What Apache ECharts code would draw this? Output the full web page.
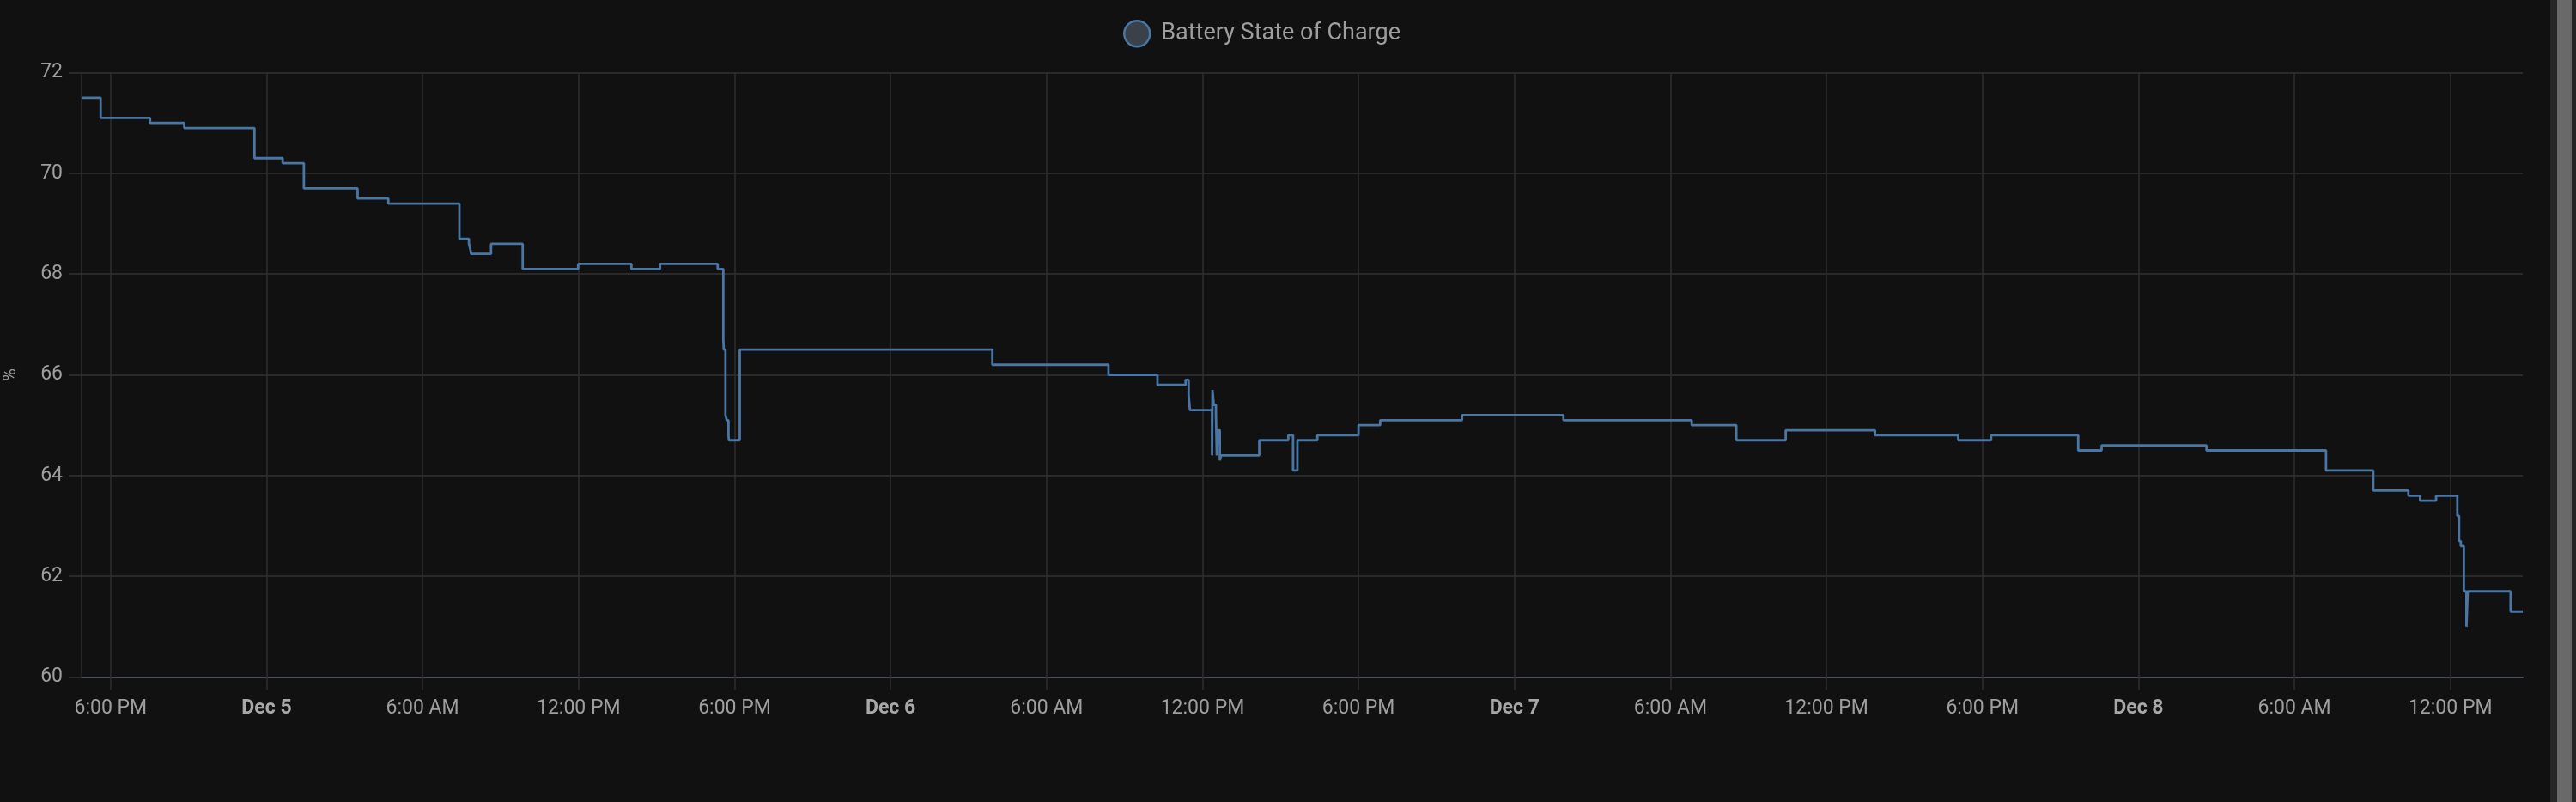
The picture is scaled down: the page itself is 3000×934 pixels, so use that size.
<!DOCTYPE html>
<html>
<head>
<meta charset="utf-8">
<title>Battery State of Charge</title>
<script src="https://cdn.jsdelivr.net/npm/echarts@6/dist/echarts.min.js"></script>
<style>
  html, body { margin: 0; padding: 0; background: #111111; overflow: hidden; }
  #chart { position: absolute; left: 0; top: 0; width: 2970px; height: 934px; }
  #scroll { position: absolute; left: 2970px; top: 0; width: 30px; height: 934px; background: #262626; }
  #scroll div { position: absolute; left: 8px; top: 0; width: 17px; height: 934px; background: #696969; }
</style>
</head>
<body>
<div id="chart"></div>
<div id="scroll"><div></div></div>
<script>
// battery history, value holds until the next change
var times = [
  '2025-12-04 16:53', '2025-12-04 17:37', '2025-12-04 19:31', '2025-12-04 20:50', '2025-12-04 23:32',
  '2025-12-05 00:37', '2025-12-05 01:26', '2025-12-05 03:30', '2025-12-05 04:41', '2025-12-05 07:25',
  '2025-12-05 07:47', '2025-12-05 07:50', '2025-12-05 07:52', '2025-12-05 08:38', '2025-12-05 09:51',
  '2025-12-05 11:59', '2025-12-05 14:02', '2025-12-05 15:08', '2025-12-05 17:21', '2025-12-05 17:30',
  '2025-12-05 17:34', '2025-12-05 17:35', '2025-12-05 17:39', '2025-12-05 17:42', '2025-12-05 17:46',
  '2025-12-05 17:47', '2025-12-05 18:12',
  '2025-12-06 03:55', '2025-12-06 08:23', '2025-12-06 10:16', '2025-12-06 11:21', '2025-12-06 11:28',
  '2025-12-06 11:31', '2025-12-06 12:22', '2025-12-06 12:23', '2025-12-06 12:26', '2025-12-06 12:31',
  '2025-12-06 12:33', '2025-12-06 12:36', '2025-12-06 12:40', '2025-12-06 12:43', '2025-12-06 14:11',
  '2025-12-06 15:18', '2025-12-06 15:29', '2025-12-06 15:39', '2025-12-06 16:25', '2025-12-06 18:00',
  '2025-12-06 18:50', '2025-12-06 21:59',
  '2025-12-07 01:53', '2025-12-07 06:49', '2025-12-07 08:32', '2025-12-07 10:26', '2025-12-07 13:52',
  '2025-12-07 17:04', '2025-12-07 18:20', '2025-12-07 21:41', '2025-12-07 22:35',
  '2025-12-08 02:37', '2025-12-08 07:13', '2025-12-08 09:02', '2025-12-08 10:23', '2025-12-08 10:50',
  '2025-12-08 11:27', '2025-12-08 12:16', '2025-12-08 12:20', '2025-12-08 12:24', '2025-12-08 12:31',
  '2025-12-08 12:37', '2025-12-08 12:40', '2025-12-08 14:19', '2025-12-08 14:47'
];
var soc = [
  71.5, 71.1, 71.0, 70.9, 70.3,
  70.2, 69.7, 69.5, 69.4, 68.7,
  68.6, 68.5, 68.4, 68.6, 68.1,
  68.2, 68.1, 68.2, 68.1, 68.1,
  66.7, 66.5, 65.2, 65.1, 64.8,
  64.7, 66.5,
  66.2, 66.0, 65.8, 65.9, 65.6,
  65.3, 64.4, 65.7, 65.4, 65.2,
  64.4, 64.9, 64.3, 64.4, 64.7,
  64.8, 64.1, 64.7, 64.8, 65.0,
  65.1, 65.2,
  65.1, 65.0, 64.7, 64.9, 64.8,
  64.7, 64.8, 64.5, 64.6,
  64.5, 64.1, 63.7, 63.6, 63.5,
  63.6, 63.2, 62.7, 62.6, 61.7,
  61.0, 61.7, 61.3, 61.3
];
// x ticks every 6 hours
var xTicks = [
  '2025-12-04 18:00', '2025-12-05 00:00', '2025-12-05 06:00', '2025-12-05 12:00',
  '2025-12-05 18:00', '2025-12-06 00:00', '2025-12-06 06:00', '2025-12-06 12:00',
  '2025-12-06 18:00', '2025-12-07 00:00', '2025-12-07 06:00', '2025-12-07 12:00',
  '2025-12-07 18:00', '2025-12-08 00:00', '2025-12-08 06:00', '2025-12-08 12:00'
];
var yTicks = [60, 62, 64, 66, 68, 70, 72];
var months = ['Jan', 'Feb', 'Mar', 'Apr', 'May', 'Jun', 'Jul', 'Aug', 'Sep', 'Oct', 'Nov', 'Dec'];

function toTime(s) {
  var p = s.split(/[- :]/);
  return new Date(+p[0], +p[1] - 1, +p[2], +p[3], +p[4]).getTime();
}

var points = [];
for (var i = 0; i < times.length; i++) {
  points.push([toTime(times[i]), soc[i]]);
}
var tickValues = xTicks.map(toTime);

function timeLabel(val) {
  var d = new Date(val);
  var h = d.getHours();
  if (h === 0) {
    return '{b|' + months[d.getMonth()] + ' ' + d.getDate() + '}';
  }
  var h12 = h % 12 === 0 ? 12 : h % 12;
  return h12 + ':00 ' + (h < 12 ? 'AM' : 'PM');
}

var myChart = echarts.init(document.getElementById('chart'));

var option = {
  backgroundColor: '#111111',
  animation: false,
  textStyle: { fontFamily: 'Roboto' },
  legend: {
    top: 23,
    left: 1308,
    padding: 0,
    icon: 'circle',
    itemWidth: 30,
    itemHeight: 30,
    textStyle: { color: '#9e9e9e', fontSize: 27, fontFamily: 'Roboto', padding: [0, 0, 0, 8] },
    itemStyle: { color: '#3b414a', borderColor: '#4a76a4', borderWidth: 2.5 },
    data: ['Battery State of Charge']
  },
  grid: {
    left: 95,
    right: 32,
    top: 84.5,
    bottom: 145.5,
    outerBoundsMode: 'none'
  },
  xAxis: {
    type: 'value',
    min: points[0][0],
    max: points[points.length - 1][0],
    axisLine: { show: true, lineStyle: { color: '#4a4e56', width: 2 } },
    axisTick: { show: true, length: 15, customValues: tickValues, lineStyle: { color: '#2e2e2e', width: 1.5 } },
    splitLine: { show: true, lineStyle: { color: '#2e2e2e', width: 1.5 } },
    axisLabel: {
      color: '#9e9e9e',
      fontSize: 23,
      margin: 25,
      customValues: tickValues,
      formatter: timeLabel,
      rich: {
        b: { fontWeight: 'bold', fontSize: 23, color: '#a8a8a8' }
      }
    }
  },
  yAxis: {
    type: 'value',
    min: yTicks[0],
    max: yTicks[yTicks.length - 1],
    interval: 2,
    name: '%',
    nameLocation: 'middle',
    nameRotate: 90,
    nameGap: 72,
    nameTextStyle: { color: '#9e9e9e', fontSize: 20 },
    axisLine: { show: true, lineStyle: { color: '#2e2e2e', width: 1.5 } },
    axisTick: { show: true, length: 15, lineStyle: { color: '#333333', width: 1.5 } },
    splitLine: { show: true, lineStyle: { color: '#333333', width: 1.5 } },
    axisLabel: { color: '#9e9e9e', fontSize: 23, margin: 22 }
  },
  series: [{
    name: 'Battery State of Charge',
    type: 'line',
    step: 'end',
    symbol: 'none',
    sampling: 'none',
    lineStyle: { color: '#4a76a4', width: 2.8 },
    itemStyle: { color: '#4a76a4' },
    data: points
  }]
};

myChart.setOption(option);
window.addEventListener('resize', myChart.resize);
</script>
</body>
</html>
